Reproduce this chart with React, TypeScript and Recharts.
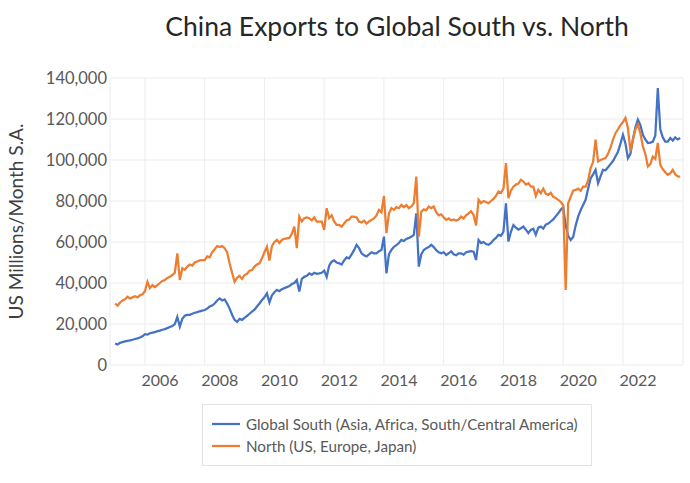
import React from 'react';
import { LineChart, Line, XAxis, YAxis, CartesianGrid, Legend } from 'recharts';

const TITLE = 'China Exports to Global South vs. North';
const Y_LABEL = 'US Millions/Month S.A.';
const SOUTH_NAME = 'Global South (Asia, Africa, South/Central America)';
const NORTH_NAME = 'North (US, Europe, Japan)';

const FIRST_YEAR = 2005;

// Monthly values, Jan 2005 .. Dec 2023 (one row per year)
const southValues = [
  10500, 10000, 10800, 11200, 11500, 11800, 12000, 12300, 12700, 13000, 13400, 14000,
  15000, 14800, 15500, 15800, 16000, 16500, 16800, 17200, 17500, 18000, 18500, 19000,
  20000, 23500, 18700, 22500, 24000, 24400, 24500, 25000, 25500, 25800, 26200, 26500,
  26800, 27500, 28500, 29000, 30000, 31500, 32500, 31500, 32000, 30000, 27500, 24500,
  22000, 21000, 22500, 22000, 23000, 24000, 25000, 26000, 27000, 28500, 30000, 31700,
  33000, 35000, 30500, 34000, 35500, 36600, 36000, 37000, 37500, 38000, 38500, 39500,
  40000, 41500, 35800, 42000, 43000, 43500, 44700, 44000, 45000, 44500, 44700, 45000,
  46000, 43000, 48500, 50400, 51000, 50000, 49600, 49000, 51000, 52500, 52000, 54000,
  56000, 58600, 57000, 54500, 53500, 53000, 54000, 55000, 54500, 54500, 55500, 56100,
  62600, 44700, 54000, 56100, 57700, 58500, 59500, 61000, 60500, 61500, 62000, 62600,
  63500, 74000, 48000, 54000, 56100, 57000, 57500, 58600, 57500, 56000, 55000, 54500,
  55000, 53700, 54500, 55500, 54000, 53500, 54500, 54500, 53800, 55000, 55300, 55500,
  55300, 51200, 61000, 59500, 60000, 59000, 58600, 59500, 61000, 62000, 63500, 63000,
  65000, 78900, 60200, 65000, 68300, 67000, 66000, 66700, 67500, 66000, 64300, 65900,
  66500, 63500, 67000, 67500, 66500, 68500, 69000, 70000, 71000, 72500, 74000, 75700,
  77000, 68000, 63000, 61000, 62500, 68000, 72400, 75500, 78000, 80600, 86000, 91000,
  93000, 95200, 88700, 92000, 95200, 95000, 96500, 98000, 99500, 101700, 104000, 108000,
  112300, 108000, 100900, 103000, 110000, 116000, 119700, 117000, 112300, 110000, 108300, 108500,
  109000, 112000, 135100, 114800, 111000, 109000, 109000, 110700, 109500, 111000, 110000, 110700,
];

const northValues = [
  30000, 29000, 30500, 31500, 32000, 33300, 32500, 33000, 33500, 33000, 34000, 34500,
  36000, 40600, 37500, 39000, 38000, 39000, 40000, 41000, 41500, 42500, 43000, 43900,
  45000, 54500, 41500, 47200, 46500, 48000, 49000, 48500, 50000, 50500, 51000, 51200,
  51200, 53000, 52500, 55000, 56500, 58000, 57500, 58000, 57000, 55000, 49600, 45000,
  40600, 42500, 43500, 42000, 43900, 44500, 46000, 46300, 48000, 49000, 49600, 52000,
  55000, 57700, 51000, 58000, 60000, 61000, 59500, 61000, 61500, 61800, 62000, 64000,
  67500, 57000, 72400, 70000, 71600, 72000, 71600, 70500, 72000, 70000, 70000, 70000,
  65900, 76500, 71600, 73000, 70000, 68300, 68300, 67500, 69000, 70500, 71000, 72400,
  72400, 72000, 70000, 69500, 70500, 69000, 70000, 70800, 71500, 73000, 75700, 74500,
  82500, 64300, 74000, 76500, 75700, 77000, 76500, 78100, 77000, 78000, 76500, 77300,
  79000, 91900, 62600, 74800, 76000, 75500, 77300, 76500, 77300, 74500, 73000, 73500,
  72000, 70800, 71500, 70500, 71000, 70500, 71000, 72400, 71500, 73000, 74000, 75000,
  73200, 68000, 80600, 79000, 80000, 79500, 78900, 80000, 81000, 82500, 84600, 84000,
  86000, 98500, 81400, 85000, 87000, 88000, 88500, 90300, 89500, 88000, 88700, 87000,
  87000, 82500, 85500, 83800, 86000, 83500, 83000, 84000, 82000, 81500, 80600, 79500,
  78100, 36600, 78900, 82000, 85000, 85400, 86000, 85000, 87000, 87000, 90000, 96000,
  99000, 109900, 99300, 100000, 100500, 100900, 103000, 106000, 110000, 113100, 115000, 117000,
  118500, 120500, 115600, 104200, 110000, 115000, 117200, 113000, 106600, 103000, 96800, 98000,
  101700, 100500, 108300, 97600, 95500, 94000, 92800, 93500, 95200, 93000, 92000, 91900,
];

const yearTicks = [2006, 2008, 2010, 2012, 2014, 2016, 2018, 2020, 2022];
const valueTicks = [0, 20000, 40000, 60000, 80000, 100000, 120000, 140000];

const data = southValues.map((s, i) => ({
  t: FIRST_YEAR + i / 12,
  south: s,
  north: northValues[i],
}));

const SOUTH_COLOR = '#4472C4';
const NORTH_COLOR = '#ED7D31';
const TEXT_COLOR = '#595959';
const FONT = 'Lato, "Open Sans", sans-serif';

const YearTick = (props: any) => {
  const { x, y, payload } = props;
  return (
    <text x={x + 15} y={y} dy="0.71em" textAnchor="middle" fill={TEXT_COLOR} fontSize={16} fontFamily={FONT}>
      {payload.value}
    </text>
  );
};

const LegendBox = () => (
  <div
    style={{
      border: '1px solid #e3e3e3',
      width: 390,
      padding: '8px 0 8px 8px',
      boxSizing: 'border-box',
      fontFamily: FONT,
      fontSize: 15.2,
      color: TEXT_COLOR,
      background: '#fff',
    }}
  >
    {[
      { name: SOUTH_NAME, color: SOUTH_COLOR },
      { name: NORTH_NAME, color: NORTH_COLOR },
    ].map((item) => (
      <div key={item.name} style={{ display: 'flex', alignItems: 'center', height: 22 }}>
        <svg width={30} height={10} style={{ marginRight: 5 }}>
          <line x1={1} y1={5} x2={29} y2={5} stroke={item.color} strokeWidth={2.25} />
        </svg>
        <span style={{ whiteSpace: 'nowrap' }}>{item.name}</span>
      </div>
    ))}
  </div>
);

export default function App() {
  return (
    <div style={{ position: 'absolute', left: 0, top: 0, width: 690, height: 483, background: '#fff' }}>
      <div
        style={{
          position: 'absolute',
          left: 0,
          width: 690,
          top: 10,
          textAlign: 'center',
          paddingLeft: 104,
          boxSizing: 'border-box',
          fontFamily: FONT,
          fontSize: 26.5,
          color: '#262626',
          whiteSpace: 'nowrap',
        }}
      >
        {TITLE}
      </div>
      <LineChart
        width={690}
        height={483}
        data={data}
        margin={{ top: 78, right: 7, bottom: 0, left: 0 }}
      >
        <CartesianGrid stroke="#ececec" strokeWidth={1} />
        <XAxis
          dataKey="t"
          type="number"
          domain={[2004.83, 2024.01]}
          ticks={yearTicks}
          tick={<YearTick />}
          tickLine={false}
          axisLine={false}
          tickSize={0}
          tickMargin={10}
          height={118}
          allowDataOverflow
        />
        <YAxis
          type="number"
          domain={[0, 140000]}
          ticks={valueTicks}
          tickFormatter={(v: number) => v.toLocaleString('en-US')}
          tick={{ fill: TEXT_COLOR, fontSize: 16.5, fontFamily: FONT }}
          tickLine={false}
          axisLine={false}
          tickSize={0}
          tickMargin={3}
          width={110}
          label={{
            value: Y_LABEL,
            angle: -90,
            position: 'insideLeft',
            offset: 0,
            dx: 16,
            style: { textAnchor: 'middle', fill: '#404040', fontSize: 19, fontFamily: FONT },
          }}
        />
        <Legend
          layout="vertical"
          align="center"
          verticalAlign="middle"
          content={<LegendBox />}
          wrapperStyle={{ left: 202, top: 404, width: 390 }}
        />
        <Line
          type="linear"
          dataKey="south"
          name={SOUTH_NAME}
          stroke={SOUTH_COLOR}
          strokeWidth={2.25}
          dot={false}
          isAnimationActive={false}
        />
        <Line
          type="linear"
          dataKey="north"
          name={NORTH_NAME}
          stroke={NORTH_COLOR}
          strokeWidth={2.25}
          dot={false}
          isAnimationActive={false}
        />
      </LineChart>
    </div>
  );
}
